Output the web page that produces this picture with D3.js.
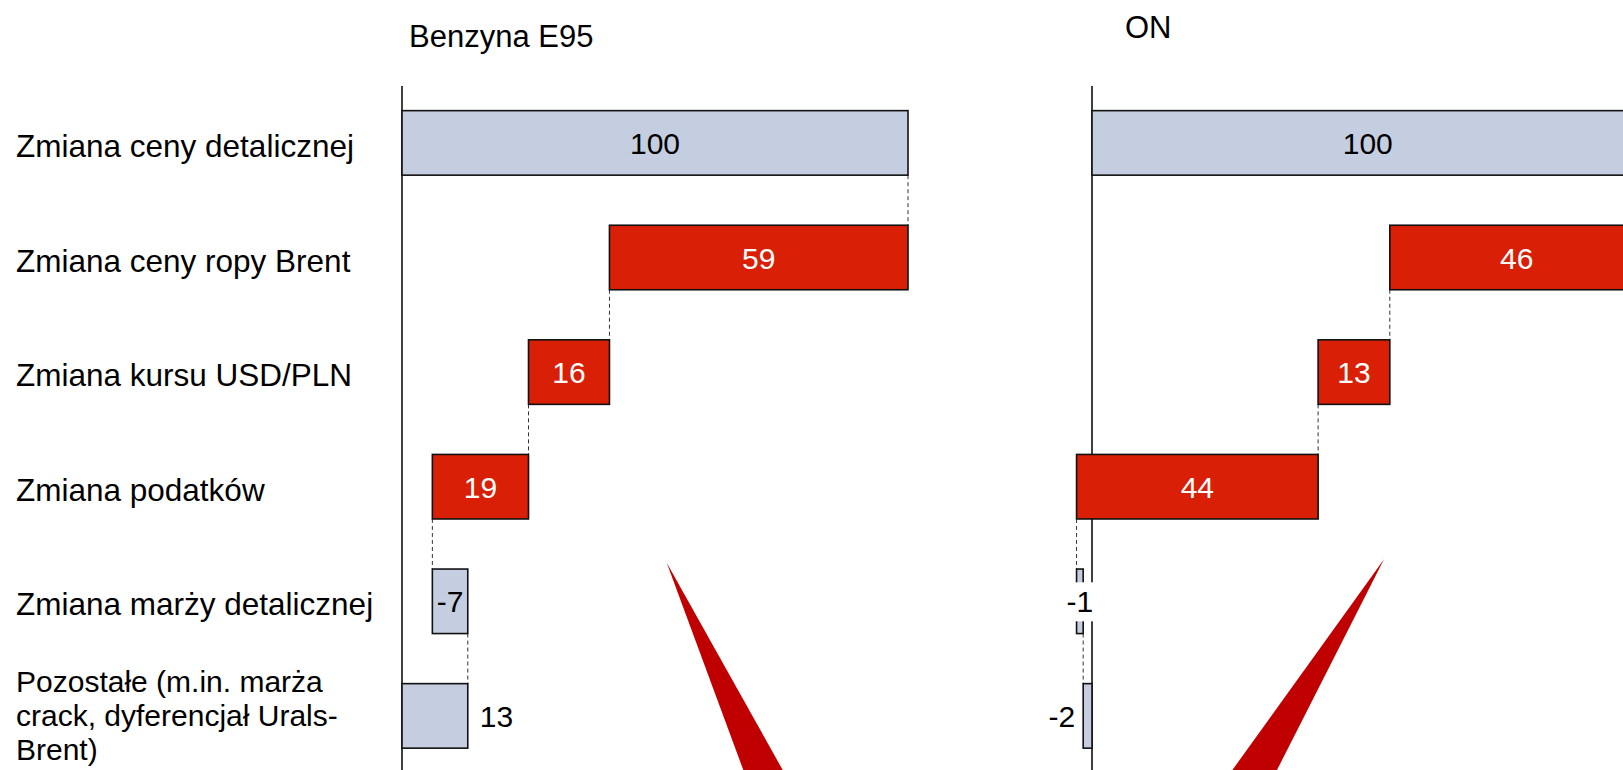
<!DOCTYPE html>
<html>
<head>
<meta charset="utf-8">
<script src="https://cdn.jsdelivr.net/npm/d3@7"></script>
<style>
  body { margin: 0; background: #fff; }
  svg { display: block; font-family: "Liberation Sans", Arial, sans-serif; }
</style>
</head>
<body>
<svg id="chart" width="1623" height="770"></svg>
<script>
// rows of the waterfall
var categories = [
  "Zmiana ceny detalicznej",
  "Zmiana ceny ropy Brent",
  "Zmiana kursu USD/PLN",
  "Zmiana podatków",
  "Zmiana marży detalicznej",
  "Pozostałe (m.in. marża crack, dyferencjał Urals-Brent)"
];
// label lines for the long last category
var lastCategoryLines = ["Pozostałe (m.in. marża", "crack, dyferencjał Urals-", "Brent)"];

var panelTitles = ["Benzyna E95", "ON"];
var benzynaValues = [100, 59, 16, 19, -7, 13];
var onValues = [100, 46, 13, 43.8, -1.2, -1.6];

var lightFill = "#c4cee0";
var redFill = "#d91f05";
var arrowFill = "#c00000";

var svg = d3.select("#chart");

var y = d3.scaleBand()
  .domain(categories)
  .range([85.6, 85.6 + 6 * 114.6])
  .paddingInner(0.437)
  .paddingOuter(0.2185);

// layout of the two panels
var panels = [
  { title: panelTitles[0], values: benzynaValues, x: d3.scaleLinear().domain([0, 100]).range([402, 908]), titleX: 409, titleY: 47 },
  { title: panelTitles[1], values: onValues, x: d3.scaleLinear().domain([0, 100]).range([1092, 1643.5]), titleX: 1125, titleY: 38 }
];

function waterfall(values) {
  var out = [];
  var cum = 0;
  values.forEach(function(v, i) {
    if (i === 0) {
      out.push({ v: v, a: 0, b: v, i: i, end: v });
      cum = v;
    } else {
      out.push({ v: v, a: cum - v, b: cum, i: i, end: cum - v });
      cum = cum - v;
    }
  });
  return out;
}

// category labels on the left
var catG = svg.append("g");
categories.forEach(function(c, i) {
  var cy = y(c) + y.bandwidth() / 2;
  if (i === categories.length - 1) {
    var t = catG.append("text").attr("x", 16).attr("font-size", 30).attr("fill", "#000");
    lastCategoryLines.forEach(function(line, k) {
      t.append("tspan").attr("x", 16).attr("y", cy - 24 + k * 34).text(line);
    });
  } else {
    catG.append("text")
      .attr("x", 16)
      .attr("y", cy + 14)
      .attr("font-size", 31.5)
      .attr("fill", "#000")
      .text(c);
  }
});

panels.forEach(function(p) {
  var g = svg.append("g");
  var x = p.x;
  var bars = waterfall(p.values);
  var n = bars.length;

  g.append("text")
    .attr("x", p.titleX)
    .attr("y", p.titleY)
    .attr("font-size", 31)
    .attr("fill", "#000")
    .text(p.title);

  // vertical axis line at zero
  g.append("line")
    .attr("x1", x(0)).attr("x2", x(0))
    .attr("y1", 86).attr("y2", 770)
    .attr("stroke", "#000")
    .attr("stroke-width", 1.5);

  // dashed connectors
  for (var i = 0; i < n - 1; i++) {
    var cx = x(bars[i].end);
    g.append("line")
      .attr("x1", cx).attr("x2", cx)
      .attr("y1", y(categories[i]) + y.bandwidth())
      .attr("y2", y(categories[i + 1]))
      .attr("stroke", "#333")
      .attr("stroke-width", 1)
      .attr("stroke-dasharray", "4,3");
  }

  g.selectAll("rect.bar")
    .data(bars)
    .enter().append("rect")
    .attr("class", "bar")
    .attr("x", function(d) { return x(Math.min(d.a, d.b)); })
    .attr("width", function(d) { return Math.abs(x(d.b) - x(d.a)); })
    .attr("y", function(d) { return y(categories[d.i]); })
    .attr("height", y.bandwidth())
    .attr("fill", function(d) {
      return (d.i === 0 || d.i === n - 1 || d.v < 0) ? lightFill : redFill;
    })
    .attr("stroke", "#111")
    .attr("stroke-width", 1.6);

  // value labels
  bars.forEach(function(d) {
    var lo = x(Math.min(d.a, d.b)), hi = x(Math.max(d.a, d.b));
    var cy = y(categories[d.i]) + y.bandwidth() / 2;
    var red = !(d.i === 0 || d.i === n - 1 || d.v < 0);
    var label = String(Math.round(d.v));
    var lx, anchor = "middle";
    if (d.i === n - 1) {
      if (d.v >= 0) { lx = hi + 12; anchor = "start"; }
      else { lx = lo - 8; anchor = "end"; }
    } else {
      lx = (lo + hi) / 2;
    }
    var bg = g.append("rect").attr("fill", "#fff");
    var t = g.append("text")
      .attr("x", lx)
      .attr("y", cy + 11)
      .attr("text-anchor", anchor)
      .attr("font-size", 30)
      .attr("fill", red ? "#fff" : "#000")
      .text(label);
    var w = t.node().getComputedTextLength();
    if (d.i !== n - 1 && w > hi - lo - 4) {
      bg.attr("x", lx - w / 2 - 2).attr("width", w + 4)
        .attr("y", cy - 19).attr("height", 39);
    } else {
      bg.remove();
    }
  });
});

// decorative red arrows pointing down
var arrows = [
  [[666.7, 562.7], [743.3, 770], [782.7, 770]],
  [[1384, 559.3], [1232.4, 770], [1277, 770]]
];
svg.selectAll("polygon.arrow")
  .data(arrows)
  .enter().append("polygon")
  .attr("class", "arrow")
  .attr("points", function(d) { return d.map(function(pt) { return pt.join(","); }).join(" "); })
  .attr("fill", arrowFill);
</script>
</body>
</html>
